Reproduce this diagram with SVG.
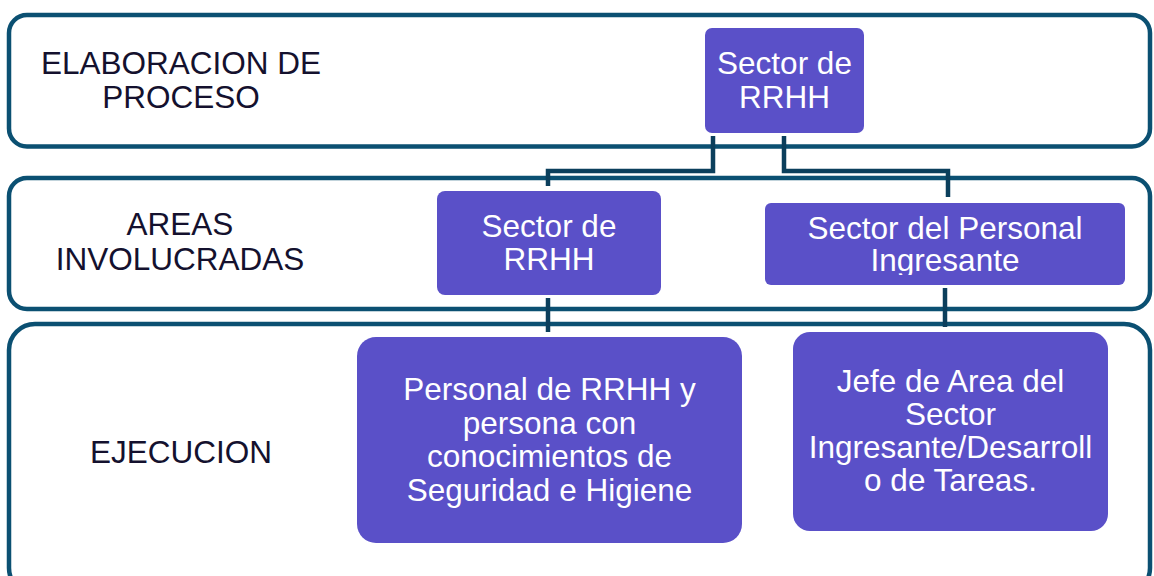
<svg xmlns="http://www.w3.org/2000/svg" width="1154" height="576" viewBox="0 0 1154 576">
<style>
.band{fill:#ffffff;stroke:#0b5072;stroke-width:4.5}
.node{fill:#5a50c8}
.lbl{font-family:"Liberation Sans",Arial,sans-serif;font-size:31.5px;fill:#14112e;text-anchor:middle}
.ntx{font-family:"Liberation Sans",Arial,sans-serif;font-size:31.5px;fill:#ffffff;text-anchor:middle}
.con{fill:none;stroke:#0b3f5c;stroke-width:4.5}
</style>
<defs>
<clipPath id="clip3"><rect x="765" y="203" width="360" height="72"/></clipPath>
</defs>
<rect width="1154" height="576" fill="#ffffff"/>
<g id="band1"><rect class="band" x="9" y="15" width="1141" height="131.5" rx="18"/>
<text class="lbl" x="181" y="74">ELABORACION DE</text>
<text class="lbl" x="181" y="108">PROCESO</text></g>
<g id="band2"><rect class="band" x="9" y="178" width="1141" height="131" rx="18"/>
<text class="lbl" x="180" y="235">AREAS</text>
<text class="lbl" x="180" y="270">INVOLUCRADAS</text></g>
<g id="band3"><rect class="band" x="9" y="324" width="1141" height="270" rx="26"/>
<text class="lbl" x="181" y="463">EJECUCION</text></g>
<g id="connectors">
<polyline class="con" points="713,136 713,171 548,171 548,186"/>
<polyline class="con" points="784,136 784,171 948,171 948,197"/>
<line class="con" x1="548" y1="298" x2="548" y2="332"/>
<line class="con" x1="945" y1="288" x2="945" y2="327"/>
</g>
<g id="node-top"><rect class="node" x="705" y="28" width="159" height="105" rx="7"/>
<text class="ntx" x="784.5" y="74">Sector de</text>
<text class="ntx" x="784.5" y="108">RRHH</text></g>
<g id="node-rrhh"><rect class="node" x="437" y="191" width="224" height="104" rx="8"/>
<text class="ntx" x="549" y="237">Sector de</text>
<text class="ntx" x="549" y="270">RRHH</text></g>
<g id="node-ingresante"><rect class="node" x="765" y="203" width="360" height="82" rx="6"/>
<g clip-path="url(#clip3)">
<text class="ntx" x="945" y="239">Sector del Personal</text>
<text class="ntx" x="945" y="271">Ingresante</text></g></g>
<g id="node-personal"><rect class="node" x="357" y="337" width="385" height="206" rx="19"/>
<text class="ntx" x="549.5" y="400">Personal de RRHH y</text>
<text class="ntx" x="549.5" y="434">persona con</text>
<text class="ntx" x="549.5" y="467">conocimientos de</text>
<text class="ntx" x="549.5" y="501">Seguridad e Higiene</text></g>
<g id="node-jefe"><rect class="node" x="793" y="332" width="315" height="199" rx="17"/>
<text class="ntx" x="950.5" y="392">Jefe de Area del</text>
<text class="ntx" x="950.5" y="425">Sector</text>
<text class="ntx" x="950.5" y="458">Ingresante/Desarroll</text>
<text class="ntx" x="950.5" y="491">o de Tareas.</text></g>
</svg>
